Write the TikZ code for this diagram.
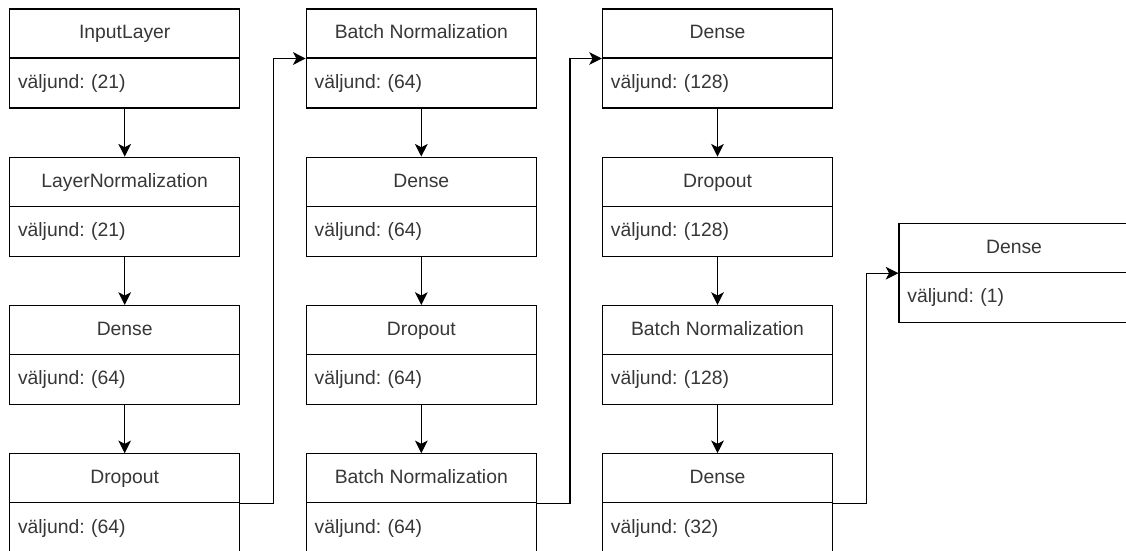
\documentclass[tikz,border=0pt]{standalone}
\usepackage{fontspec}
\setmainfont{Liberation Sans}
\usepackage{tikz}
\usetikzlibrary{arrows.meta}
\frenchspacing
\pgfdeclarelayer{edgelayer}
\pgfdeclarelayer{nodelayer}
\pgfsetlayers{edgelayer,nodelayer,main}
\definecolor{txtgray}{RGB}{55,55,55}
\tikzstyle{layerhead}=[rectangle,draw=black,line width=0.9pt,fill=white,anchor=north,minimum width=172.5pt,minimum height=36.75pt,inner sep=0pt,text height=1.0em,text depth=0.2em,text=txtgray,font=\fontsize{14.5}{17}\selectfont]
\tikzstyle{layerbody}=[rectangle,draw=black,line width=0.9pt,fill=white,anchor=north,minimum height=37.5pt,text width=160pt,inner xsep=6.25pt,inner ysep=0pt,text height=1.0em,text depth=0.2em,align=left,text=txtgray,font=\fontsize{14.5}{17}\selectfont]
\tikzstyle{inarrow}=[-{Stealth[length=9.5pt,width=9.5pt,inset=2.5pt]},line width=0.9pt,draw=black]

\begin{document}
\begin{tikzpicture}[x=0.75pt,y=-0.75pt]
	\useasboundingbox (0,0) rectangle (1126,550);
	\begin{pgfonlayer}{nodelayer}
		% first column
		\node [style=layerhead] (0) at (124.7, 8.3) {InputLayer};
		\node [style=layerbody] (1) at (124.7, 57.3) {väljund: (21)};
		\node [style=layerhead] (2) at (124.7, 156.6) {LayerNormalization};
		\node [style=layerbody] (3) at (124.7, 205.6) {väljund: (21)};
		\node [style=layerhead] (4) at (124.7, 304.9) {Dense};
		\node [style=layerbody] (5) at (124.7, 353.9) {väljund: (64)};
		\node [style=layerhead] (6) at (124.7, 453.2) {Dropout};
		\node [style=layerbody] (7) at (124.7, 502.2) {väljund: (64)};
		% second column
		\node [style=layerhead] (8) at (421.3, 8.3) {Batch Normalization};
		\node [style=layerbody] (9) at (421.3, 57.3) {väljund: (64)};
		\node [style=layerhead] (10) at (421.3, 156.6) {Dense};
		\node [style=layerbody] (11) at (421.3, 205.6) {väljund: (64)};
		\node [style=layerhead] (12) at (421.3, 304.9) {Dropout};
		\node [style=layerbody] (13) at (421.3, 353.9) {väljund: (64)};
		\node [style=layerhead] (14) at (421.3, 453.2) {Batch Normalization};
		\node [style=layerbody] (15) at (421.3, 502.2) {väljund: (64)};
		% third column
		\node [style=layerhead] (16) at (717.5, 8.3) {Dense};
		\node [style=layerbody] (17) at (717.5, 57.3) {väljund: (128)};
		\node [style=layerhead] (18) at (717.5, 156.6) {Dropout};
		\node [style=layerbody] (19) at (717.5, 205.6) {väljund: (128)};
		\node [style=layerhead] (20) at (717.5, 304.9) {Batch Normalization};
		\node [style=layerbody] (21) at (717.5, 353.9) {väljund: (128)};
		\node [style=layerhead] (22) at (717.5, 453.2) {Dense};
		\node [style=layerbody] (23) at (717.5, 502.2) {väljund: (32)};
		% output
		\node [style=layerhead] (24) at (1014, 223) {Dense};
		\node [style=layerbody] (25) at (1014, 272) {väljund: (1)};
	\end{pgfonlayer}
	\begin{pgfonlayer}{edgelayer}
		\draw [style=inarrow] (1) to (2);
		\draw [style=inarrow] (3) to (4);
		\draw [style=inarrow] (5) to (6);
		\draw [style=inarrow] (9) to (10);
		\draw [style=inarrow] (11) to (12);
		\draw [style=inarrow] (13) to (14);
		\draw [style=inarrow] (17) to (18);
		\draw [style=inarrow] (19) to (20);
		\draw [style=inarrow] (21) to (22);
		\draw [style=inarrow] (6.south east) -- ++(33,0) |- (8.south west);
		\draw [style=inarrow] (14.south east) -- ++(33,0) |- (16.south west);
		\draw [style=inarrow] (22.south east) -- ++(33.5,0) |- (24.south west);
	\end{pgfonlayer}
\end{tikzpicture}
\end{document}
